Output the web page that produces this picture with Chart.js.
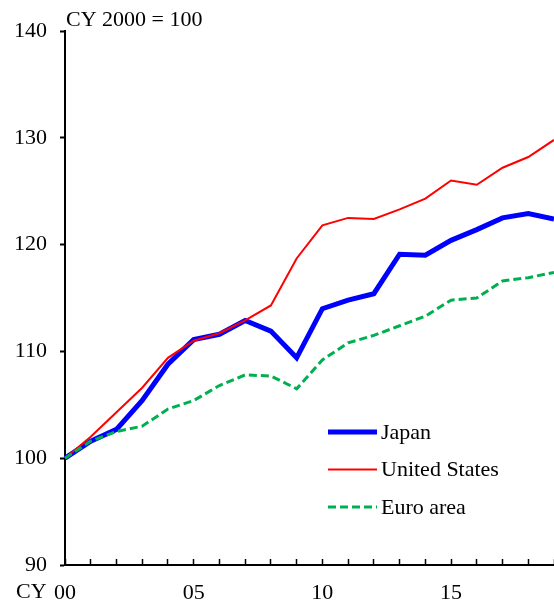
<!DOCTYPE html>
<html>
<head>
<meta charset="utf-8">
<script src="https://cdn.jsdelivr.net/npm/chart.js@4/dist/chart.umd.min.js"></script>
<style>
  html, body { margin: 0; padding: 0; background: #fff; }
  #wrap { width: 554px; height: 603px; }
</style>
</head>
<body>
<div id="wrap"><canvas id="chart"></canvas></div>
<script>
// years 2000 - 2019
const years = [2000, 2001, 2002, 2003, 2004, 2005, 2006, 2007, 2008, 2009,
               2010, 2011, 2012, 2013, 2014, 2015, 2016, 2017, 2018, 2019];

// CY 2000 = 100
const japan = [100, 101.6, 102.7, 105.4, 108.8, 111.1, 111.6, 112.9, 111.9, 109.4,
               114.0, 114.8, 115.4, 119.1, 119.0, 120.4, 121.4, 122.5, 122.9, 122.4];
const unitedStates = [100, 102.0, 104.3, 106.6, 109.4, 111.0, 111.7, 112.9, 114.3, 118.7,
                      121.8, 122.5, 122.4, 123.3, 124.3, 126.0, 125.6, 127.2, 128.2, 129.8];
const euroArea = [100, 101.6, 102.5, 103.0, 104.6, 105.4, 106.8, 107.8, 107.7, 106.5,
                  109.2, 110.8, 111.5, 112.4, 113.3, 114.8, 115.0, 116.6, 116.9, 117.4];

const xTickLabels = { 2000: "00", 2005: "05", 2010: "10", 2015: "15" };
const yTicks = [90, 100, 110, 120, 130, 140];

const serif = "'Liberation Serif', 'Times New Roman', serif";

// legend + header text drawn inside the plot
const extras = {
  id: "extras",
  afterDraw(chart) {
    const c = chart.ctx;
    c.save();
    c.font = "22px " + serif;
    c.fillStyle = "#000";
    c.textBaseline = "middle";
    c.textAlign = "left";
    c.fillText("CY 2000 = 100", 66, 20);
    c.fillText("CY", 16, 592);

    const items = [
      { label: "Japan", color: "#0000ff", width: 5, dash: [] },
      { label: "United States", color: "#ff0000", width: 2, dash: [] },
      { label: "Euro area", color: "#00b050", width: 3, dash: [8, 4] },
    ];
    items.forEach((it, i) => {
      const y = 432 + i * 37.5;
      c.beginPath();
      c.strokeStyle = it.color;
      c.lineWidth = it.width;
      c.setLineDash(it.dash);
      c.moveTo(328, y);
      c.lineTo(377, y);
      c.stroke();
      c.setLineDash([]);
      c.fillText(it.label, 381, y + 1);
    });
    c.restore();
  },
};

const ctx = document.getElementById("chart").getContext("2d");
new Chart(ctx, {
  type: "line",
  data: {
    labels: years,
    datasets: [
      {
        label: "Euro area",
        data: euroArea,
        borderColor: "#00b050",
        borderWidth: 3,
        borderDash: [8, 4],
        pointRadius: 0,
        tension: 0,
      },
      {
        label: "United States",
        data: unitedStates,
        borderColor: "#ff0000",
        borderWidth: 2,
        pointRadius: 0,
        tension: 0,
      },
      {
        label: "Japan",
        data: japan,
        borderColor: "#0000ff",
        borderWidth: 5,
        pointRadius: 0,
        tension: 0,
      },
    ],
  },
  options: {
    responsive: true,
    maintainAspectRatio: false,
    animation: false,
    layout: { padding: { top: 31, right: 0, left: 0, bottom: 0 } },
    plugins: {
      legend: { display: false },
      tooltip: { enabled: false },
    },
    scales: {
      x: {
        type: "category",
        offset: false,
        grid: {
          drawOnChartArea: false,
          drawTicks: true,
          tickLength: -6,
          tickColor: "#000",
          tickWidth: 1.5,
        },
        border: { color: "#000", width: 2 },
        ticks: {
          autoSkip: false,
          maxRotation: 0,
          padding: 21,
          color: "#000",
          font: { family: serif, size: 22 },
          callback: function (value, index) {
            return xTickLabels[years[index]] || "";
          },
        },
        afterFit(scale) {
          scale.height = 38;
          scale.paddingRight = 0;
          scale.paddingLeft = 0;
        },
      },
      y: {
        min: 90,
        max: 140,
        afterBuildTicks(scale) { scale.ticks = yTicks.map((v) => ({ value: v })); },
        grid: {
          drawOnChartArea: false,
          drawTicks: true,
          tickLength: 5,
          tickColor: "#000",
          tickWidth: 2,
        },
        border: { color: "#000", width: 2 },
        ticks: {
          padding: 13,
          color: "#000",
          font: { family: serif, size: 22 },
        },
        afterFit(scale) { scale.width = 65; },
      },
    },
  },
  plugins: [extras],
});
</script>
</body>
</html>
